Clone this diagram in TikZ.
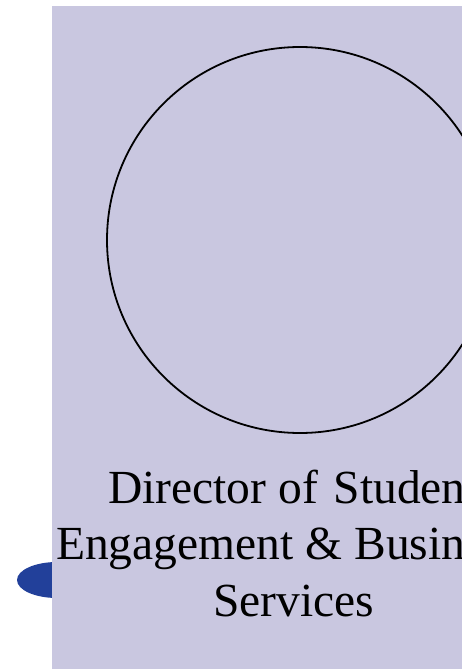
\documentclass[tikz,border=0pt]{standalone}
\usepackage{fontspec}
\setmainfont{Liberation Serif}
\definecolor{panel}{HTML}{C9C7E0}
\definecolor{blob}{HTML}{22409A}
\tikzset{
  label text/.style={anchor=base west, inner sep=0pt, font=\fontsize{47.5}{56}\selectfont, text=black},
}
\begin{document}
\begin{tikzpicture}[x=1pt,y=-1pt]
\useasboundingbox (0,0) rectangle (462,669);
\clip (0,0) rectangle (462,669);
\fill[blob] (57,580) ellipse [x radius=40, y radius=18];
\fill[panel] (52,6) rectangle (470,680);
\draw[line width=1.8pt] (300,240) circle [radius=193];
\node[label text] (l1) at (108,503) {Director of\hspace{4pt} Studen};
\node[label text] (l2) at (56,559) {Engagement \& Busin};
\node[label text] (l3) at (213,616) {Services};
\end{tikzpicture}
\end{document}
